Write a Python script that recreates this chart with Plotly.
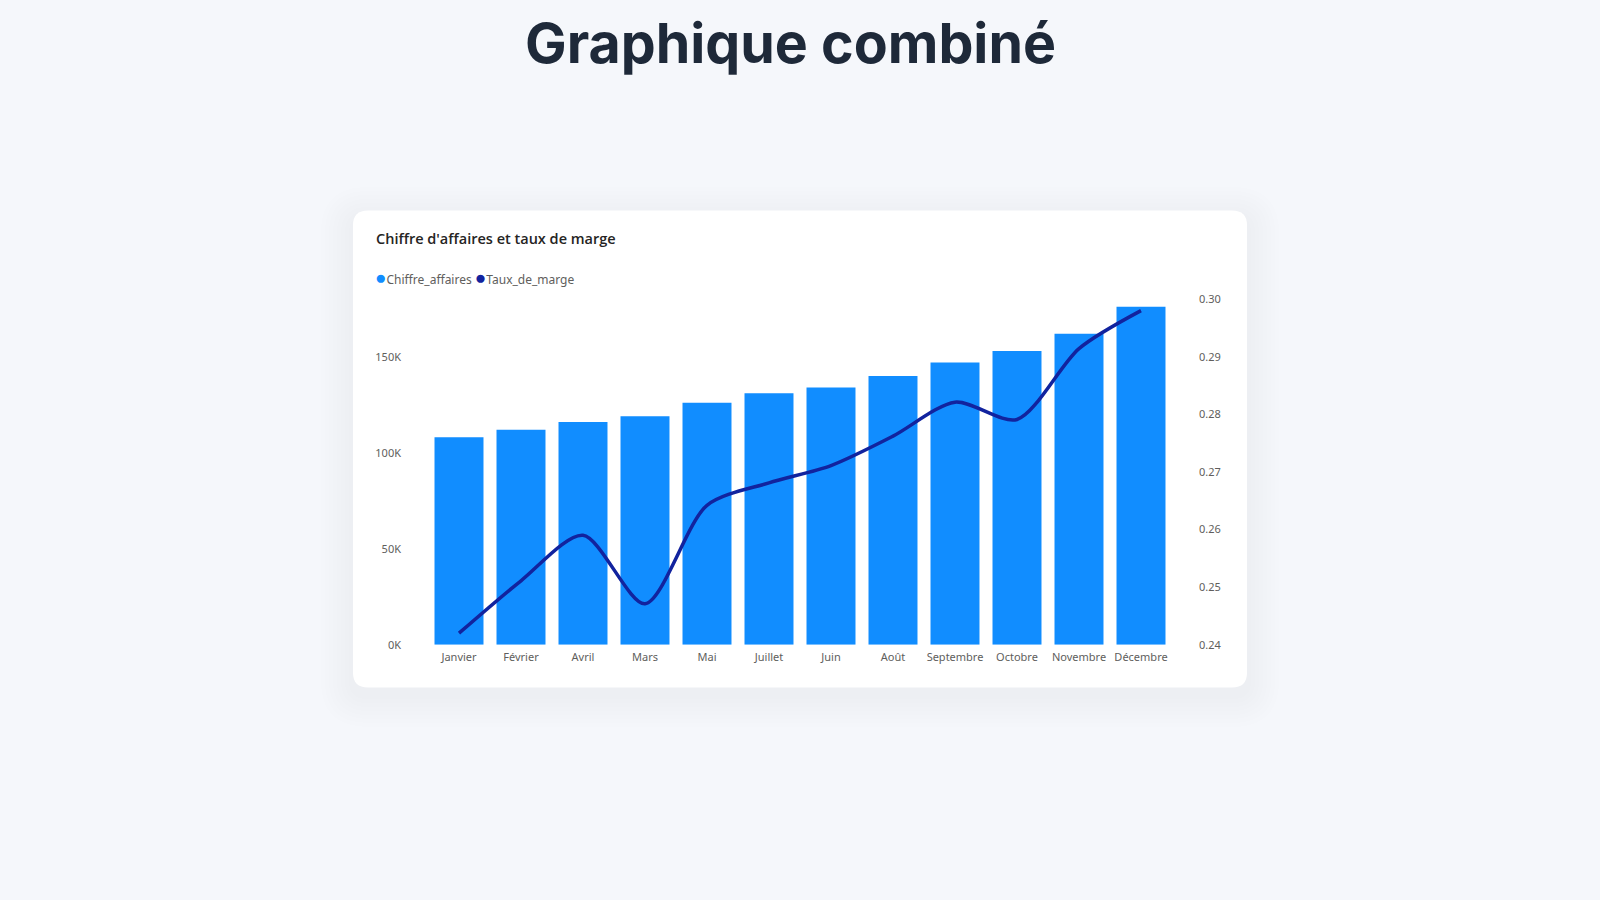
import plotly.graph_objects as go

W, H = 1600, 900

mois = ["Janvier", "Février", "Avril", "Mars", "Mai", "Juillet", "Juin",
        "Août", "Septembre", "Octobre", "Novembre", "Décembre"]
chiffre_affaires = [108000, 112000, 116000, 119000, 126000, 131000, 134000,
                    140000, 147000, 153000, 162000, 176000]
taux_de_marge = [0.2420, 0.2511, 0.2590, 0.2471, 0.2642, 0.2681, 0.2711,
                 0.2762, 0.2821, 0.2791, 0.2914, 0.2980]

ca_ticks = [0, 50000, 100000, 150000]
ca_ticktext = ["0K", "50K", "100K", "150K"]

BAR_COLOR = "#118DFF"
LINE_COLOR = "#12239E"
PAGE_BG = "#F5F7FB"


def px_x(x):
    return x / W


def px_y(y):
    # pixel from top -> paper fraction from bottom
    return 1 - y / H


def rounded_rect(x0, y0, x1, y1, r):
    # path in paper coords, corners given in pixels
    rx, ry = r / W, r / H
    X0, X1 = px_x(x0), px_x(x1)
    Yt, Yb = px_y(y0), px_y(y1)
    return (f"M {X0 + rx},{Yt} L {X1 - rx},{Yt} Q {X1},{Yt} {X1},{Yt - ry} "
            f"L {X1},{Yb + ry} Q {X1},{Yb} {X1 - rx},{Yb} "
            f"L {X0 + rx},{Yb} Q {X0},{Yb} {X0},{Yb + ry} "
            f"L {X0},{Yt - ry} Q {X0},{Yt} {X0 + rx},{Yt} Z")


fig = go.Figure()

fig.add_trace(go.Bar(
    x=mois, y=chiffre_affaires,
    name="Chiffre_affaires",
    marker=dict(color=BAR_COLOR, line=dict(width=0)),
    showlegend=False,
))

fig.add_trace(go.Scatter(
    x=mois, y=taux_de_marge,
    name="Taux_de_marge",
    mode="lines",
    line=dict(color=LINE_COLOR, width=3.5, shape="spline", smoothing=0.8),
    yaxis="y2",
    showlegend=False,
))

# card + soft shadow
card = (353, 206, 1247, 691)
shapes = []
for i in range(8):
    g = 32 - i * 4
    shapes.append(dict(
        type="path", xref="paper", yref="paper", layer="below",
        path=rounded_rect(card[0] - g, card[1] - g + 8, card[2] + g, card[3] + g + 8, 15 + g),
        fillcolor="rgba(70,80,110,0.007)", line=dict(width=0),
    ))
shapes.append(dict(
    type="path", xref="paper", yref="paper", layer="below",
    path=rounded_rect(*card, 15),
    fillcolor="white", line=dict(width=0),
))

tick_font = dict(family="Noto Sans, Open Sans, sans-serif", size=11, color="#605E5C")

fig.update_layout(
    width=W, height=H,
    margin=dict(l=0, r=0, t=0, b=0),
    paper_bgcolor=PAGE_BG,
    plot_bgcolor="rgba(0,0,0,0)",
    bargap=0.21,
    shapes=shapes,
    xaxis=dict(
        domain=[px_x(428), px_x(1172)],
        showgrid=False, zeroline=False, showline=False,
        tickfont=tick_font, ticks="", ticklabelstandoff=4,
    ),
    yaxis=dict(
        domain=[px_y(647.5), px_y(296)],
        range=[0, 180000],
        tickvals=ca_ticks, ticktext=ca_ticktext,
        showgrid=False, zeroline=False, showline=False,
        tickfont=tick_font, ticklabelstandoff=26,
    ),
    yaxis2=dict(
        overlaying="y", side="right",
        range=[0.24, 0.30], dtick=0.01, tickformat=".2f",
        showgrid=False, zeroline=False, showline=False,
        tickfont=tick_font, ticklabelstandoff=26,
    ),
    annotations=[
        dict(
            text="<b>Graphique combiné</b>",
            xref="paper", yref="paper", x=px_x(790), y=px_y(35),
            xanchor="center", yanchor="middle", showarrow=False,
            font=dict(family="Inter, sans-serif", size=55.5, color="#1E2939"),
        ),
        dict(
            text="Chiffre d'affaires et taux de marge",
            xref="paper", yref="paper", x=px_x(374), y=px_y(234),
            xanchor="left", yanchor="middle", showarrow=False,
            font=dict(family="Open Sans, sans-serif", size=14.5, color="#252423", weight=600),
        ),
        dict(
            text=(f"<span style='color:{BAR_COLOR};font-size:19px'>●</span>Chiffre_affaires "
                  f"<span style='color:{LINE_COLOR};font-size:19px'>●</span>Taux_de_marge"),
            xref="paper", yref="paper", x=px_x(373), y=px_y(274),
            xanchor="left", yanchor="middle", showarrow=False,
            font=dict(family="Noto Sans, sans-serif", size=12, color="#605E5C"),
        ),
    ],
)

fig.write_html(
    "out.html",
    config={"displayModeBar": False},
    post_script=("var s=document.createElement('style');"
                 "s.innerHTML='html,body{margin:0 !important;padding:0 !important;"
                 "overflow:hidden;width:1600px;height:900px}';"
                 "document.head.appendChild(s);"),
)
